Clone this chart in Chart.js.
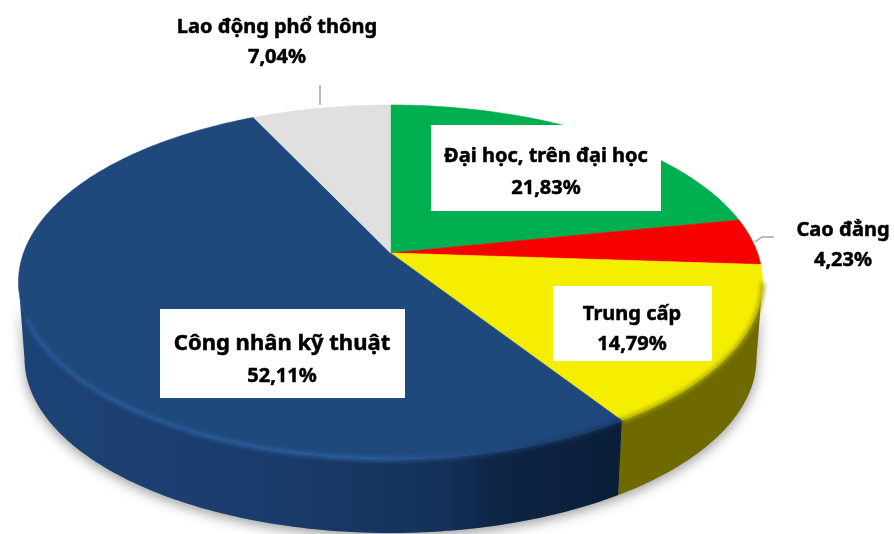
<!DOCTYPE html>
<html lang="vi">
<head>
<meta charset="utf-8">
<title>Cơ cấu lao động theo trình độ</title>
<script src="https://cdn.jsdelivr.net/npm/chart.js@4/dist/chart.umd.js"></script>
<style>
  html, body { margin: 0; background: #fff; }
  canvas { display: block; }
</style>
</head>
<body>
<canvas id="pie" width="894" height="534"></canvas>
<script>
// Dữ liệu biểu đồ
const categories = ['Đại học, trên đại học', 'Cao đẳng', 'Trung cấp', 'Công nhân kỹ thuật', 'Lao động phổ thông'];
const shares = [21.83, 4.23, 14.79, 52.11, 7.04];

// Màu từng phần
const topColors = ['#00b050', '#f60000', '#f6ee00', '#1f497d', '#e0e0e0'];

// Vị trí nhãn: hộp trắng (nếu có), tâm chữ, hai đường cơ sở và cỡ chữ
const labelLayout = [
    { box: [431, 125, 230, 86], x: 546, y: [162, 194], size: 20 },
    { box: null, x: 843, y: [236, 266], size: 20 },
    { box: [553, 286, 159, 75], x: 632, y: [320, 350], size: 20 },
    { box: [160, 309, 245, 89], x: 282, y: [350, 382], size: 22 },
    { box: null, x: 277, y: [33, 63], size: 20 }
];
const leaderLines = [
    [[320, 85], [320, 105]],
    [[755, 242], [762, 237], [774, 237]]
];

// Mặt trên là ellipse, tâm hình tròn bị lệch lên phía sau do phối cảnh
const FACE = { cx: 390.5, cy: 282, rx: 372, ry: 177, shift: 0.164 };
const BASE = { cx: 390.5, cy: 358, rx: 366, ry: 175 };

// Đổi góc của cung sang điểm trên viền ellipse
function rimPoint(angle) {
    const e = FACE.shift;
    const den = 1 - e * Math.sin(angle);
    return {
        u: Math.cos(angle) * Math.sqrt(1 - e * e) / den,
        v: (Math.sin(angle) - e) / den
    };
}

function sampleRim(start, end) {
    const steps = Math.max(2, Math.ceil((end - start) * 60));
    const pts = [];
    for (let i = 0; i <= steps; i++) {
        pts.push(rimPoint(start + (end - start) * i / steps));
    }
    return pts;
}

const onFace = p => [FACE.cx + p.u * FACE.rx, FACE.cy + p.v * FACE.ry];
const onBase = p => [BASE.cx + p.u * BASE.rx, BASE.cy + p.v * BASE.ry];

function tracePath(ctx, points) {
    ctx.beginPath();
    points.forEach((p, i) => i ? ctx.lineTo(p[0], p[1]) : ctx.moveTo(p[0], p[1]));
}

function horizontalGradient(ctx, x0, x1, stops) {
    const g = ctx.createLinearGradient(x0, 0, x1, 0);
    stops.forEach(([at, color]) => g.addColorStop(at, color));
    return g;
}

// Phần tử cung vẽ theo phối cảnh
class TiltArc extends Chart.ArcElement {
    static id = 'tiltArc';

    draw(ctx) {
        const { startAngle, endAngle } = this.getProps(['startAngle', 'endAngle']);
        const apex = [FACE.cx, FACE.cy - FACE.shift * FACE.ry];
        tracePath(ctx, [apex, ...sampleRim(startAngle, endAngle).map(onFace)]);
        ctx.closePath();
        ctx.fillStyle = this.options.backgroundColor;
        ctx.strokeStyle = this.options.backgroundColor;
        ctx.lineWidth = 0.6;
        ctx.fill();
        ctx.stroke();
    }
}

class TiltPie extends Chart.PieController {
    static id = 'tiltPie';
    static defaults = { dataElementType: 'tiltArc' };

    draw() {
        const ctx = this.chart.ctx;
        const arcs = this.getMeta().data;
        const front = arcs.map(a => sampleRim(a.startAngle, a.endAngle).filter(p => p.v >= -0.01));

        // Bóng đổ quanh đế
        const lower = sampleRim(0, Math.PI * 1.5).filter(p => p.v >= 0.1);
        ctx.save();
        ctx.shadowColor = 'rgba(0,0,0,0.42)';
        ctx.shadowBlur = 13;
        ctx.shadowOffsetY = 3;
        ctx.fillStyle = '#888';
        tracePath(ctx, [...lower.map(onFace), ...lower.slice().reverse().map(onBase)]);
        ctx.fill();
        ctx.restore();

        // Mặt bên
        const blueSide = horizontalGradient(ctx, 20, 617, [
            [0, '#1d4376'], [0.42, '#1a3c6c'], [0.72, '#143058'], [0.8, '#0d2546'], [1, '#0a1e38']
        ]);
        const sideFill = [null, null, '#6e6a00', blueSide, null];
        front.forEach((pts, i) => {
            if (pts.length < 2 || !sideFill[i]) return;
            ctx.fillStyle = sideFill[i];
            tracePath(ctx, [...pts.map(onFace), ...pts.slice().reverse().map(onBase)]);
            ctx.closePath();
            ctx.fill();
        });

        super.draw();

        // Gờ mềm ở mép trước, phần xanh nhạt dần về bên phải
        const blueRim = horizontalGradient(ctx, 30, 617, [
            [0, '#2a5b9a'], [0.6, '#2f62a4'], [0.8, '#1d4477'], [1, '#153259']
        ]);
        const rimFill = [null, null, '#aaa400', blueRim, null];
        ctx.save();
        ctx.filter = 'blur(2px)';
        ctx.lineWidth = 4;
        front.forEach((pts, i) => {
            const edge = pts.filter(p => p.v >= (i === 3 ? 0.2 : -0.01));
            if (edge.length < 2 || !rimFill[i]) return;
            ctx.strokeStyle = rimFill[i];
            tracePath(ctx, edge.map(onFace));
            ctx.stroke();
        });
        ctx.restore();
    }
}

Chart.register(TiltArc, TiltPie);

// Đường dẫn và nhãn
const labelPlugin = {
    id: 'sliceLabels',
    afterDraw(chart) {
        const ctx = chart.ctx;
        ctx.save();
        ctx.strokeStyle = '#a6a6a6';
        ctx.lineWidth = 1.5;
        leaderLines.forEach(line => {
            tracePath(ctx, line);
            ctx.stroke();
        });
        ctx.textAlign = 'center';
        ctx.textBaseline = 'alphabetic';
        ctx.lineJoin = 'round';
        categories.forEach((name, i) => {
            const item = labelLayout[i];
            if (item.box) {
                ctx.fillStyle = '#fff';
                ctx.fillRect(...item.box);
            }
            ctx.fillStyle = '#000';
            ctx.strokeStyle = '#000';
            ctx.lineWidth = 0.5;
            ctx.font = `bold ${item.size}px "Noto Sans"`;
            ctx.fillText(name, item.x, item.y[0]);
            ctx.strokeText(name, item.x, item.y[0]);
            ctx.font = 'bold 20px "Noto Sans"';
            const value = shares[i].toFixed(2).replace('.', ',') + '%';
            ctx.fillText(value, item.x, item.y[1]);
            ctx.strokeText(value, item.x, item.y[1]);
        });
        ctx.restore();
    }
};

new Chart(document.getElementById('pie'), {
    type: 'tiltPie',
    data: {
        labels: categories,
        datasets: [{ data: shares, backgroundColor: topColors, borderWidth: 0 }]
    },
    options: {
        responsive: false,
        animation: false,
        plugins: { legend: { display: false }, tooltip: { enabled: false } }
    },
    plugins: [labelPlugin]
});
</script>
</body>
</html>
